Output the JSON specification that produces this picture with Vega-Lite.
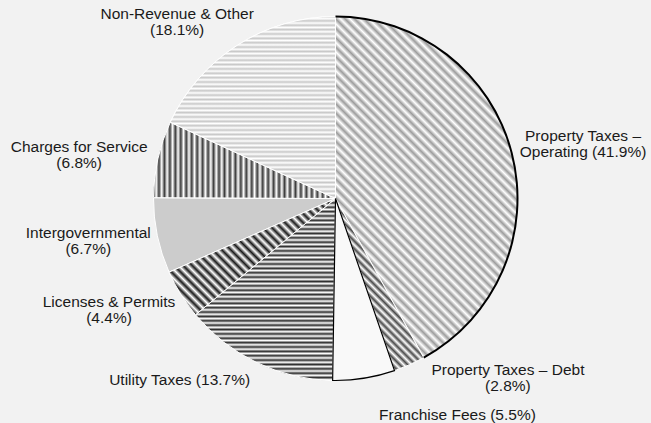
{
  "$schema": "https://vega.github.io/schema/vega-lite/v6.json",
  "width": 600,
  "height": 380,
  "autosize": {"type": "none"},
  "padding": {"left": 35.5, "top": 8.5, "right": 15.5, "bottom": 34.5},
  "background": "#f2f2f2",
  "config": {"view": {"stroke": null}},
  "data": {
    "values": [
      {"idx": 1, "category": "Property Taxes – Operating", "pct": 41.9, "label": "Property Taxes –\nOperating (41.9%)"},
      {"idx": 2, "category": "Property Taxes – Debt", "pct": 2.8, "label": "Property Taxes – Debt\n(2.8%)"},
      {"idx": 3, "category": "Franchise Fees", "pct": 5.5, "label": "Franchise Fees (5.5%)"},
      {"idx": 4, "category": "Utility Taxes", "pct": 13.7, "label": "Utility Taxes (13.7%)"},
      {"idx": 5, "category": "Licenses & Permits", "pct": 4.4, "label": "Licenses & Permits\n(4.4%)"},
      {"idx": 6, "category": "Intergovernmental", "pct": 6.7, "label": "Intergovernmental\n(6.7%)"},
      {"idx": 7, "category": "Charges for Service", "pct": 6.8, "label": "Charges for Service\n(6.8%)"},
      {"idx": 8, "category": "Non-Revenue & Other", "pct": 18.1, "label": "Non-Revenue & Other\n(18.1%)"}
    ]
  },
  "transform": [
    {"stack": "pct", "groupby": [], "sort": [{"field": "idx", "order": "ascending"}], "as": ["p0", "p1"]},
    {"calculate": "(datum.p0 + datum.p1) / 2", "as": "mid"}
  ],
  "layer": [
    {
      "mark": {"type": "arc", "outerRadius": 182, "stroke": "#ffffff", "strokeWidth": 1},
      "encoding": {
        "theta": {"field": "p0", "type": "quantitative", "scale": {"domain": [0, 99.9]}},
        "theta2": {"field": "p1"},
        "fill": {
          "field": "category", "type": "nominal", "legend": null,
          "scale": {
            "domain": ["Property Taxes – Operating", "Property Taxes – Debt", "Franchise Fees", "Utility Taxes", "Licenses & Permits", "Intergovernmental", "Charges for Service", "Non-Revenue & Other"],
            "range": ["#d3d3d3", "#ababab", "#f9f9f9", "#9c9c9c", "#959595", "#cccccc", "#a2a2a2", "#eaeaea"]
          }
        }
      }
    },
    {
      "transform": [{"filter": "datum.idx == 1"}],
      "mark": {"type": "arc", "outerRadius": 182, "stroke": "#ffffff", "strokeWidth": 1,
        "fill": {"gradient": "linear", "x1": 0, "y1": 1, "x2": 0.6368, "y2": -0.1938, "stops": [
          {"offset": 0, "color": "#9c9c9c"}, {"offset": 0.009, "color": "#fff"}, {"offset": 0.018, "color": "#9c9c9c"}, {"offset": 0.027, "color": "#fff"},
          {"offset": 0.036, "color": "#9c9c9c"}, {"offset": 0.045, "color": "#fff"}, {"offset": 0.054, "color": "#9c9c9c"}, {"offset": 0.063, "color": "#fff"},
          {"offset": 0.072, "color": "#9c9c9c"}, {"offset": 0.081, "color": "#fff"}, {"offset": 0.09, "color": "#9c9c9c"}, {"offset": 0.099, "color": "#fff"},
          {"offset": 0.108, "color": "#9c9c9c"}, {"offset": 0.117, "color": "#fff"}, {"offset": 0.126, "color": "#9c9c9c"}, {"offset": 0.135, "color": "#fff"},
          {"offset": 0.144, "color": "#9c9c9c"}, {"offset": 0.153, "color": "#fff"}, {"offset": 0.162, "color": "#9c9c9c"}, {"offset": 0.171, "color": "#fff"},
          {"offset": 0.18, "color": "#9c9c9c"}, {"offset": 0.189, "color": "#fff"}, {"offset": 0.198, "color": "#9c9c9c"}, {"offset": 0.207, "color": "#fff"},
          {"offset": 0.216, "color": "#9c9c9c"}, {"offset": 0.225, "color": "#fff"}, {"offset": 0.234, "color": "#9c9c9c"}, {"offset": 0.243, "color": "#fff"},
          {"offset": 0.252, "color": "#9c9c9c"}, {"offset": 0.261, "color": "#fff"}, {"offset": 0.27, "color": "#9c9c9c"}, {"offset": 0.279, "color": "#fff"},
          {"offset": 0.288, "color": "#9c9c9c"}, {"offset": 0.297, "color": "#fff"}, {"offset": 0.306, "color": "#9c9c9c"}, {"offset": 0.315, "color": "#fff"},
          {"offset": 0.324, "color": "#9c9c9c"}, {"offset": 0.333, "color": "#fff"}, {"offset": 0.342, "color": "#9c9c9c"}, {"offset": 0.351, "color": "#fff"},
          {"offset": 0.36, "color": "#9c9c9c"}, {"offset": 0.369, "color": "#fff"}, {"offset": 0.378, "color": "#9c9c9c"}, {"offset": 0.387, "color": "#fff"},
          {"offset": 0.396, "color": "#9c9c9c"}, {"offset": 0.405, "color": "#fff"}, {"offset": 0.414, "color": "#9c9c9c"}, {"offset": 0.423, "color": "#fff"},
          {"offset": 0.432, "color": "#9c9c9c"}, {"offset": 0.441, "color": "#fff"}, {"offset": 0.45, "color": "#9c9c9c"}, {"offset": 0.459, "color": "#fff"},
          {"offset": 0.468, "color": "#9c9c9c"}, {"offset": 0.477, "color": "#fff"}, {"offset": 0.486, "color": "#9c9c9c"}, {"offset": 0.495, "color": "#fff"},
          {"offset": 0.504, "color": "#9c9c9c"}, {"offset": 0.513, "color": "#fff"}, {"offset": 0.522, "color": "#9c9c9c"}, {"offset": 0.531, "color": "#fff"},
          {"offset": 0.54, "color": "#9c9c9c"}, {"offset": 0.549, "color": "#fff"}, {"offset": 0.558, "color": "#9c9c9c"}, {"offset": 0.567, "color": "#fff"},
          {"offset": 0.576, "color": "#9c9c9c"}, {"offset": 0.585, "color": "#fff"}, {"offset": 0.594, "color": "#9c9c9c"}, {"offset": 0.603, "color": "#fff"},
          {"offset": 0.612, "color": "#9c9c9c"}, {"offset": 0.621, "color": "#fff"}, {"offset": 0.63, "color": "#9c9c9c"}, {"offset": 0.639, "color": "#fff"},
          {"offset": 0.648, "color": "#9c9c9c"}, {"offset": 0.657, "color": "#fff"}, {"offset": 0.666, "color": "#9c9c9c"}, {"offset": 0.675, "color": "#fff"},
          {"offset": 0.684, "color": "#9c9c9c"}, {"offset": 0.693, "color": "#fff"}, {"offset": 0.702, "color": "#9c9c9c"}, {"offset": 0.711, "color": "#fff"},
          {"offset": 0.72, "color": "#9c9c9c"}, {"offset": 0.729, "color": "#fff"}, {"offset": 0.738, "color": "#9c9c9c"}, {"offset": 0.747, "color": "#fff"},
          {"offset": 0.756, "color": "#9c9c9c"}, {"offset": 0.765, "color": "#fff"}, {"offset": 0.774, "color": "#9c9c9c"}, {"offset": 0.783, "color": "#fff"},
          {"offset": 0.792, "color": "#9c9c9c"}, {"offset": 0.801, "color": "#fff"}, {"offset": 0.81, "color": "#9c9c9c"}, {"offset": 0.819, "color": "#fff"},
          {"offset": 0.828, "color": "#9c9c9c"}, {"offset": 0.837, "color": "#fff"}, {"offset": 0.846, "color": "#9c9c9c"}, {"offset": 0.855, "color": "#fff"},
          {"offset": 0.864, "color": "#9c9c9c"}, {"offset": 0.873, "color": "#fff"}, {"offset": 0.882, "color": "#9c9c9c"}, {"offset": 0.891, "color": "#fff"},
          {"offset": 0.9, "color": "#9c9c9c"}, {"offset": 0.909, "color": "#fff"}, {"offset": 0.918, "color": "#9c9c9c"}, {"offset": 0.927, "color": "#fff"},
          {"offset": 0.936, "color": "#9c9c9c"}, {"offset": 0.945, "color": "#fff"}, {"offset": 0.954, "color": "#9c9c9c"}, {"offset": 0.963, "color": "#fff"},
          {"offset": 0.972, "color": "#9c9c9c"}, {"offset": 0.981, "color": "#fff"}, {"offset": 0.99, "color": "#9c9c9c"}, {"offset": 0.999, "color": "#fff"}
        ]}},
      "encoding": {
        "theta": {"field": "p0", "type": "quantitative", "scale": {"domain": [0, 99.9]}},
        "theta2": {"field": "p1"}
      }
    },
    {
      "transform": [{"filter": "datum.idx == 2"}],
      "mark": {"type": "arc", "outerRadius": 182, "stroke": "#ffffff", "strokeWidth": 1,
        "fill": {"gradient": "linear", "x1": 0, "y1": 1, "x2": 0.6142, "y2": -0.1978, "stops": [
          {"offset": 0, "color": "#4a4a4a"}, {"offset": 0.015, "color": "#fff"}, {"offset": 0.03, "color": "#4a4a4a"}, {"offset": 0.045, "color": "#fff"},
          {"offset": 0.06, "color": "#4a4a4a"}, {"offset": 0.075, "color": "#fff"}, {"offset": 0.09, "color": "#4a4a4a"}, {"offset": 0.105, "color": "#fff"},
          {"offset": 0.12, "color": "#4a4a4a"}, {"offset": 0.135, "color": "#fff"}, {"offset": 0.15, "color": "#4a4a4a"}, {"offset": 0.165, "color": "#fff"},
          {"offset": 0.18, "color": "#4a4a4a"}, {"offset": 0.195, "color": "#fff"}, {"offset": 0.21, "color": "#4a4a4a"}, {"offset": 0.225, "color": "#fff"},
          {"offset": 0.24, "color": "#4a4a4a"}, {"offset": 0.255, "color": "#fff"}, {"offset": 0.27, "color": "#4a4a4a"}, {"offset": 0.285, "color": "#fff"},
          {"offset": 0.3, "color": "#4a4a4a"}, {"offset": 0.315, "color": "#fff"}, {"offset": 0.33, "color": "#4a4a4a"}, {"offset": 0.345, "color": "#fff"},
          {"offset": 0.36, "color": "#4a4a4a"}, {"offset": 0.375, "color": "#fff"}, {"offset": 0.39, "color": "#4a4a4a"}, {"offset": 0.405, "color": "#fff"},
          {"offset": 0.42, "color": "#4a4a4a"}, {"offset": 0.435, "color": "#fff"}, {"offset": 0.45, "color": "#4a4a4a"}, {"offset": 0.465, "color": "#fff"},
          {"offset": 0.48, "color": "#4a4a4a"}, {"offset": 0.495, "color": "#fff"}, {"offset": 0.51, "color": "#4a4a4a"}, {"offset": 0.525, "color": "#fff"},
          {"offset": 0.54, "color": "#4a4a4a"}, {"offset": 0.555, "color": "#fff"}, {"offset": 0.57, "color": "#4a4a4a"}, {"offset": 0.585, "color": "#fff"},
          {"offset": 0.6, "color": "#4a4a4a"}, {"offset": 0.615, "color": "#fff"}, {"offset": 0.63, "color": "#4a4a4a"}, {"offset": 0.645, "color": "#fff"},
          {"offset": 0.66, "color": "#4a4a4a"}, {"offset": 0.675, "color": "#fff"}, {"offset": 0.69, "color": "#4a4a4a"}, {"offset": 0.705, "color": "#fff"},
          {"offset": 0.72, "color": "#4a4a4a"}, {"offset": 0.735, "color": "#fff"}, {"offset": 0.75, "color": "#4a4a4a"}, {"offset": 0.765, "color": "#fff"},
          {"offset": 0.78, "color": "#4a4a4a"}, {"offset": 0.795, "color": "#fff"}, {"offset": 0.81, "color": "#4a4a4a"}, {"offset": 0.825, "color": "#fff"},
          {"offset": 0.84, "color": "#4a4a4a"}, {"offset": 0.855, "color": "#fff"}, {"offset": 0.87, "color": "#4a4a4a"}, {"offset": 0.885, "color": "#fff"},
          {"offset": 0.9, "color": "#4a4a4a"}, {"offset": 0.915, "color": "#fff"}, {"offset": 0.93, "color": "#4a4a4a"}, {"offset": 0.945, "color": "#fff"},
          {"offset": 0.96, "color": "#4a4a4a"}, {"offset": 0.975, "color": "#fff"}, {"offset": 0.99, "color": "#4a4a4a"}
        ]}},
      "encoding": {
        "theta": {"field": "p0", "type": "quantitative", "scale": {"domain": [0, 99.9]}},
        "theta2": {"field": "p1"}
      }
    },
    {
      "transform": [{"filter": "datum.idx == 4"}],
      "mark": {"type": "arc", "outerRadius": 182, "stroke": "#ffffff", "strokeWidth": 1,
        "fill": {"gradient": "linear", "x1": 0, "y1": 0, "x2": 0, "y2": 1, "stops": [
          {"offset": 0, "color": "#2e2e2e"}, {"offset": 0.012, "color": "#fff"}, {"offset": 0.024, "color": "#2e2e2e"}, {"offset": 0.036, "color": "#fff"},
          {"offset": 0.048, "color": "#2e2e2e"}, {"offset": 0.06, "color": "#fff"}, {"offset": 0.072, "color": "#2e2e2e"}, {"offset": 0.084, "color": "#fff"},
          {"offset": 0.096, "color": "#2e2e2e"}, {"offset": 0.108, "color": "#fff"}, {"offset": 0.12, "color": "#2e2e2e"}, {"offset": 0.132, "color": "#fff"},
          {"offset": 0.144, "color": "#2e2e2e"}, {"offset": 0.156, "color": "#fff"}, {"offset": 0.168, "color": "#2e2e2e"}, {"offset": 0.18, "color": "#fff"},
          {"offset": 0.192, "color": "#2e2e2e"}, {"offset": 0.204, "color": "#fff"}, {"offset": 0.216, "color": "#2e2e2e"}, {"offset": 0.228, "color": "#fff"},
          {"offset": 0.24, "color": "#2e2e2e"}, {"offset": 0.252, "color": "#fff"}, {"offset": 0.264, "color": "#2e2e2e"}, {"offset": 0.276, "color": "#fff"},
          {"offset": 0.288, "color": "#2e2e2e"}, {"offset": 0.3, "color": "#fff"}, {"offset": 0.312, "color": "#2e2e2e"}, {"offset": 0.324, "color": "#fff"},
          {"offset": 0.336, "color": "#2e2e2e"}, {"offset": 0.348, "color": "#fff"}, {"offset": 0.36, "color": "#2e2e2e"}, {"offset": 0.372, "color": "#fff"},
          {"offset": 0.384, "color": "#2e2e2e"}, {"offset": 0.396, "color": "#fff"}, {"offset": 0.408, "color": "#2e2e2e"}, {"offset": 0.42, "color": "#fff"},
          {"offset": 0.432, "color": "#2e2e2e"}, {"offset": 0.444, "color": "#fff"}, {"offset": 0.456, "color": "#2e2e2e"}, {"offset": 0.468, "color": "#fff"},
          {"offset": 0.48, "color": "#2e2e2e"}, {"offset": 0.492, "color": "#fff"}, {"offset": 0.504, "color": "#2e2e2e"}, {"offset": 0.516, "color": "#fff"},
          {"offset": 0.528, "color": "#2e2e2e"}, {"offset": 0.54, "color": "#fff"}, {"offset": 0.552, "color": "#2e2e2e"}, {"offset": 0.564, "color": "#fff"},
          {"offset": 0.576, "color": "#2e2e2e"}, {"offset": 0.588, "color": "#fff"}, {"offset": 0.6, "color": "#2e2e2e"}, {"offset": 0.612, "color": "#fff"},
          {"offset": 0.624, "color": "#2e2e2e"}, {"offset": 0.636, "color": "#fff"}, {"offset": 0.648, "color": "#2e2e2e"}, {"offset": 0.66, "color": "#fff"},
          {"offset": 0.672, "color": "#2e2e2e"}, {"offset": 0.684, "color": "#fff"}, {"offset": 0.696, "color": "#2e2e2e"}, {"offset": 0.708, "color": "#fff"},
          {"offset": 0.72, "color": "#2e2e2e"}, {"offset": 0.732, "color": "#fff"}, {"offset": 0.744, "color": "#2e2e2e"}, {"offset": 0.756, "color": "#fff"},
          {"offset": 0.768, "color": "#2e2e2e"}, {"offset": 0.78, "color": "#fff"}, {"offset": 0.792, "color": "#2e2e2e"}, {"offset": 0.804, "color": "#fff"},
          {"offset": 0.816, "color": "#2e2e2e"}, {"offset": 0.828, "color": "#fff"}, {"offset": 0.84, "color": "#2e2e2e"}, {"offset": 0.852, "color": "#fff"},
          {"offset": 0.864, "color": "#2e2e2e"}, {"offset": 0.876, "color": "#fff"}, {"offset": 0.888, "color": "#2e2e2e"}, {"offset": 0.9, "color": "#fff"},
          {"offset": 0.912, "color": "#2e2e2e"}, {"offset": 0.924, "color": "#fff"}, {"offset": 0.936, "color": "#2e2e2e"}, {"offset": 0.948, "color": "#fff"},
          {"offset": 0.96, "color": "#2e2e2e"}, {"offset": 0.972, "color": "#fff"}, {"offset": 0.984, "color": "#2e2e2e"}, {"offset": 0.996, "color": "#fff"}
        ]}},
      "encoding": {
        "theta": {"field": "p0", "type": "quantitative", "scale": {"domain": [0, 99.9]}},
        "theta2": {"field": "p1"}
      }
    },
    {
      "transform": [{"filter": "datum.idx == 5"}],
      "mark": {"type": "arc", "outerRadius": 182, "stroke": "#ffffff", "strokeWidth": 1,
        "fill": {"gradient": "linear", "x1": 0, "y1": 1, "x2": 1.1414, "y2": 0.2023, "stops": [
          {"offset": 0, "color": "#1a1a1a"}, {"offset": 0.016, "color": "#fff"}, {"offset": 0.032, "color": "#1a1a1a"}, {"offset": 0.048, "color": "#fff"},
          {"offset": 0.064, "color": "#1a1a1a"}, {"offset": 0.08, "color": "#fff"}, {"offset": 0.096, "color": "#1a1a1a"}, {"offset": 0.112, "color": "#fff"},
          {"offset": 0.128, "color": "#1a1a1a"}, {"offset": 0.144, "color": "#fff"}, {"offset": 0.16, "color": "#1a1a1a"}, {"offset": 0.176, "color": "#fff"},
          {"offset": 0.192, "color": "#1a1a1a"}, {"offset": 0.208, "color": "#fff"}, {"offset": 0.224, "color": "#1a1a1a"}, {"offset": 0.24, "color": "#fff"},
          {"offset": 0.256, "color": "#1a1a1a"}, {"offset": 0.272, "color": "#fff"}, {"offset": 0.288, "color": "#1a1a1a"}, {"offset": 0.304, "color": "#fff"},
          {"offset": 0.32, "color": "#1a1a1a"}, {"offset": 0.336, "color": "#fff"}, {"offset": 0.352, "color": "#1a1a1a"}, {"offset": 0.368, "color": "#fff"},
          {"offset": 0.384, "color": "#1a1a1a"}, {"offset": 0.4, "color": "#fff"}, {"offset": 0.416, "color": "#1a1a1a"}, {"offset": 0.432, "color": "#fff"},
          {"offset": 0.448, "color": "#1a1a1a"}, {"offset": 0.464, "color": "#fff"}, {"offset": 0.48, "color": "#1a1a1a"}, {"offset": 0.496, "color": "#fff"},
          {"offset": 0.512, "color": "#1a1a1a"}, {"offset": 0.528, "color": "#fff"}, {"offset": 0.544, "color": "#1a1a1a"}, {"offset": 0.56, "color": "#fff"},
          {"offset": 0.576, "color": "#1a1a1a"}, {"offset": 0.592, "color": "#fff"}, {"offset": 0.608, "color": "#1a1a1a"}, {"offset": 0.624, "color": "#fff"},
          {"offset": 0.64, "color": "#1a1a1a"}, {"offset": 0.656, "color": "#fff"}, {"offset": 0.672, "color": "#1a1a1a"}, {"offset": 0.688, "color": "#fff"},
          {"offset": 0.704, "color": "#1a1a1a"}, {"offset": 0.72, "color": "#fff"}, {"offset": 0.736, "color": "#1a1a1a"}, {"offset": 0.752, "color": "#fff"},
          {"offset": 0.768, "color": "#1a1a1a"}, {"offset": 0.784, "color": "#fff"}, {"offset": 0.8, "color": "#1a1a1a"}, {"offset": 0.816, "color": "#fff"},
          {"offset": 0.832, "color": "#1a1a1a"}, {"offset": 0.848, "color": "#fff"}, {"offset": 0.864, "color": "#1a1a1a"}, {"offset": 0.88, "color": "#fff"},
          {"offset": 0.896, "color": "#1a1a1a"}, {"offset": 0.912, "color": "#fff"}, {"offset": 0.928, "color": "#1a1a1a"}, {"offset": 0.944, "color": "#fff"},
          {"offset": 0.96, "color": "#1a1a1a"}, {"offset": 0.976, "color": "#fff"}, {"offset": 0.992, "color": "#1a1a1a"}
        ]}},
      "encoding": {
        "theta": {"field": "p0", "type": "quantitative", "scale": {"domain": [0, 99.9]}},
        "theta2": {"field": "p1"}
      }
    },
    {
      "transform": [{"filter": "datum.idx == 7"}],
      "mark": {"type": "arc", "outerRadius": 182, "stroke": "#ffffff", "strokeWidth": 1,
        "fill": {"gradient": "linear", "x1": 0, "y1": 0, "x2": 1, "y2": 0, "stops": [
          {"offset": 0, "color": "#3c3c3c"}, {"offset": 0.015, "color": "#fff"}, {"offset": 0.03, "color": "#3c3c3c"}, {"offset": 0.045, "color": "#fff"},
          {"offset": 0.06, "color": "#3c3c3c"}, {"offset": 0.075, "color": "#fff"}, {"offset": 0.09, "color": "#3c3c3c"}, {"offset": 0.105, "color": "#fff"},
          {"offset": 0.12, "color": "#3c3c3c"}, {"offset": 0.135, "color": "#fff"}, {"offset": 0.15, "color": "#3c3c3c"}, {"offset": 0.165, "color": "#fff"},
          {"offset": 0.18, "color": "#3c3c3c"}, {"offset": 0.195, "color": "#fff"}, {"offset": 0.21, "color": "#3c3c3c"}, {"offset": 0.225, "color": "#fff"},
          {"offset": 0.24, "color": "#3c3c3c"}, {"offset": 0.255, "color": "#fff"}, {"offset": 0.27, "color": "#3c3c3c"}, {"offset": 0.285, "color": "#fff"},
          {"offset": 0.3, "color": "#3c3c3c"}, {"offset": 0.315, "color": "#fff"}, {"offset": 0.33, "color": "#3c3c3c"}, {"offset": 0.345, "color": "#fff"},
          {"offset": 0.36, "color": "#3c3c3c"}, {"offset": 0.375, "color": "#fff"}, {"offset": 0.39, "color": "#3c3c3c"}, {"offset": 0.405, "color": "#fff"},
          {"offset": 0.42, "color": "#3c3c3c"}, {"offset": 0.435, "color": "#fff"}, {"offset": 0.45, "color": "#3c3c3c"}, {"offset": 0.465, "color": "#fff"},
          {"offset": 0.48, "color": "#3c3c3c"}, {"offset": 0.495, "color": "#fff"}, {"offset": 0.51, "color": "#3c3c3c"}, {"offset": 0.525, "color": "#fff"},
          {"offset": 0.54, "color": "#3c3c3c"}, {"offset": 0.555, "color": "#fff"}, {"offset": 0.57, "color": "#3c3c3c"}, {"offset": 0.585, "color": "#fff"},
          {"offset": 0.6, "color": "#3c3c3c"}, {"offset": 0.615, "color": "#fff"}, {"offset": 0.63, "color": "#3c3c3c"}, {"offset": 0.645, "color": "#fff"},
          {"offset": 0.66, "color": "#3c3c3c"}, {"offset": 0.675, "color": "#fff"}, {"offset": 0.69, "color": "#3c3c3c"}, {"offset": 0.705, "color": "#fff"},
          {"offset": 0.72, "color": "#3c3c3c"}, {"offset": 0.735, "color": "#fff"}, {"offset": 0.75, "color": "#3c3c3c"}, {"offset": 0.765, "color": "#fff"},
          {"offset": 0.78, "color": "#3c3c3c"}, {"offset": 0.795, "color": "#fff"}, {"offset": 0.81, "color": "#3c3c3c"}, {"offset": 0.825, "color": "#fff"},
          {"offset": 0.84, "color": "#3c3c3c"}, {"offset": 0.855, "color": "#fff"}, {"offset": 0.87, "color": "#3c3c3c"}, {"offset": 0.885, "color": "#fff"},
          {"offset": 0.9, "color": "#3c3c3c"}, {"offset": 0.915, "color": "#fff"}, {"offset": 0.93, "color": "#3c3c3c"}, {"offset": 0.945, "color": "#fff"},
          {"offset": 0.96, "color": "#3c3c3c"}, {"offset": 0.975, "color": "#fff"}, {"offset": 0.99, "color": "#3c3c3c"}
        ]}},
      "encoding": {
        "theta": {"field": "p0", "type": "quantitative", "scale": {"domain": [0, 99.9]}},
        "theta2": {"field": "p1"}
      }
    },
    {
      "transform": [{"filter": "datum.idx == 8"}],
      "mark": {"type": "arc", "outerRadius": 182, "stroke": "#ffffff", "strokeWidth": 1,
        "fill": {"gradient": "linear", "x1": 0, "y1": 0, "x2": 0, "y2": 1, "stops": [
          {"offset": 0, "color": "#c8c8c8"}, {"offset": 0.012, "color": "#fff"}, {"offset": 0.024, "color": "#c8c8c8"}, {"offset": 0.036, "color": "#fff"},
          {"offset": 0.048, "color": "#c8c8c8"}, {"offset": 0.06, "color": "#fff"}, {"offset": 0.072, "color": "#c8c8c8"}, {"offset": 0.084, "color": "#fff"},
          {"offset": 0.096, "color": "#c8c8c8"}, {"offset": 0.108, "color": "#fff"}, {"offset": 0.12, "color": "#c8c8c8"}, {"offset": 0.132, "color": "#fff"},
          {"offset": 0.144, "color": "#c8c8c8"}, {"offset": 0.156, "color": "#fff"}, {"offset": 0.168, "color": "#c8c8c8"}, {"offset": 0.18, "color": "#fff"},
          {"offset": 0.192, "color": "#c8c8c8"}, {"offset": 0.204, "color": "#fff"}, {"offset": 0.216, "color": "#c8c8c8"}, {"offset": 0.228, "color": "#fff"},
          {"offset": 0.24, "color": "#c8c8c8"}, {"offset": 0.252, "color": "#fff"}, {"offset": 0.264, "color": "#c8c8c8"}, {"offset": 0.276, "color": "#fff"},
          {"offset": 0.288, "color": "#c8c8c8"}, {"offset": 0.3, "color": "#fff"}, {"offset": 0.312, "color": "#c8c8c8"}, {"offset": 0.324, "color": "#fff"},
          {"offset": 0.336, "color": "#c8c8c8"}, {"offset": 0.348, "color": "#fff"}, {"offset": 0.36, "color": "#c8c8c8"}, {"offset": 0.372, "color": "#fff"},
          {"offset": 0.384, "color": "#c8c8c8"}, {"offset": 0.396, "color": "#fff"}, {"offset": 0.408, "color": "#c8c8c8"}, {"offset": 0.42, "color": "#fff"},
          {"offset": 0.432, "color": "#c8c8c8"}, {"offset": 0.444, "color": "#fff"}, {"offset": 0.456, "color": "#c8c8c8"}, {"offset": 0.468, "color": "#fff"},
          {"offset": 0.48, "color": "#c8c8c8"}, {"offset": 0.492, "color": "#fff"}, {"offset": 0.504, "color": "#c8c8c8"}, {"offset": 0.516, "color": "#fff"},
          {"offset": 0.528, "color": "#c8c8c8"}, {"offset": 0.54, "color": "#fff"}, {"offset": 0.552, "color": "#c8c8c8"}, {"offset": 0.564, "color": "#fff"},
          {"offset": 0.576, "color": "#c8c8c8"}, {"offset": 0.588, "color": "#fff"}, {"offset": 0.6, "color": "#c8c8c8"}, {"offset": 0.612, "color": "#fff"},
          {"offset": 0.624, "color": "#c8c8c8"}, {"offset": 0.636, "color": "#fff"}, {"offset": 0.648, "color": "#c8c8c8"}, {"offset": 0.66, "color": "#fff"},
          {"offset": 0.672, "color": "#c8c8c8"}, {"offset": 0.684, "color": "#fff"}, {"offset": 0.696, "color": "#c8c8c8"}, {"offset": 0.708, "color": "#fff"},
          {"offset": 0.72, "color": "#c8c8c8"}, {"offset": 0.732, "color": "#fff"}, {"offset": 0.744, "color": "#c8c8c8"}, {"offset": 0.756, "color": "#fff"},
          {"offset": 0.768, "color": "#c8c8c8"}, {"offset": 0.78, "color": "#fff"}, {"offset": 0.792, "color": "#c8c8c8"}, {"offset": 0.804, "color": "#fff"},
          {"offset": 0.816, "color": "#c8c8c8"}, {"offset": 0.828, "color": "#fff"}, {"offset": 0.84, "color": "#c8c8c8"}, {"offset": 0.852, "color": "#fff"},
          {"offset": 0.864, "color": "#c8c8c8"}, {"offset": 0.876, "color": "#fff"}, {"offset": 0.888, "color": "#c8c8c8"}, {"offset": 0.9, "color": "#fff"},
          {"offset": 0.912, "color": "#c8c8c8"}, {"offset": 0.924, "color": "#fff"}, {"offset": 0.936, "color": "#c8c8c8"}, {"offset": 0.948, "color": "#fff"},
          {"offset": 0.96, "color": "#c8c8c8"}, {"offset": 0.972, "color": "#fff"}, {"offset": 0.984, "color": "#c8c8c8"}, {"offset": 0.996, "color": "#fff"}
        ]}},
      "encoding": {
        "theta": {"field": "p0", "type": "quantitative", "scale": {"domain": [0, 99.9]}},
        "theta2": {"field": "p1"}
      }
    },
    {
      "transform": [{"filter": "datum.idx == 1"}],
      "mark": {"type": "arc", "innerRadius": 181, "outerRadius": 183, "fill": "#000000"},
      "encoding": {
        "theta": {"field": "p0", "type": "quantitative", "scale": {"domain": [0, 99.9]}},
        "theta2": {"field": "p1"}
      }
    },
    {
      "transform": [{"filter": "datum.idx == 3"}],
      "mark": {"type": "arc", "outerRadius": 182, "fillOpacity": 0, "stroke": "#000000", "strokeWidth": 1.2},
      "encoding": {
        "theta": {"field": "p0", "type": "quantitative", "scale": {"domain": [0, 99.9]}},
        "theta2": {"field": "p1"}
      }
    },
    {
      "transform": [{"filter": "datum.idx == 1"}],
      "mark": {"type": "text", "radius": 250, "dx": 5.5, "dy": 0, "font": "Liberation Sans", "fontSize": 15.5, "lineHeight": 16, "lineBreak": "\n", "align": "center", "baseline": "middle", "fill": "#1a1a1a"},
      "encoding": {"theta": {"field": "mid", "type": "quantitative", "scale": {"domain": [0, 99.9]}}, "text": {"field": "label"}}
    },
    {
      "transform": [{"filter": "datum.idx == 2"}],
      "mark": {"type": "text", "radius": 230, "dx": 79, "dy": -39, "font": "Liberation Sans", "fontSize": 15.5, "lineHeight": 16, "lineBreak": "\n", "align": "center", "baseline": "middle", "fill": "#1a1a1a"},
      "encoding": {"theta": {"field": "mid", "type": "quantitative", "scale": {"domain": [0, 99.9]}}, "text": {"field": "label"}}
    },
    {
      "transform": [{"filter": "datum.idx == 3"}],
      "mark": {"type": "text", "radius": 220, "dx": 87.5, "dy": -1, "font": "Liberation Sans", "fontSize": 15.5, "lineHeight": 16, "lineBreak": "\n", "align": "center", "baseline": "middle", "fill": "#1a1a1a"},
      "encoding": {"theta": {"field": "mid", "type": "quantitative", "scale": {"domain": [0, 99.9]}}, "text": {"field": "label"}}
    },
    {
      "transform": [{"filter": "datum.idx == 4"}],
      "mark": {"type": "text", "radius": 200, "dx": -69.5, "dy": 1, "font": "Liberation Sans", "fontSize": 15.5, "lineHeight": 16, "lineBreak": "\n", "align": "center", "baseline": "middle", "fill": "#1a1a1a"},
      "encoding": {"theta": {"field": "mid", "type": "quantitative", "scale": {"domain": [0, 99.9]}}, "text": {"field": "label"}}
    },
    {
      "transform": [{"filter": "datum.idx == 5"}],
      "mark": {"type": "text", "radius": 250, "dx": -14, "dy": -28, "font": "Liberation Sans", "fontSize": 15.5, "lineHeight": 16, "lineBreak": "\n", "align": "center", "baseline": "middle", "fill": "#1a1a1a"},
      "encoding": {"theta": {"field": "mid", "type": "quantitative", "scale": {"domain": [0, 99.9]}}, "text": {"field": "label"}}
    },
    {
      "transform": [{"filter": "datum.idx == 6"}],
      "mark": {"type": "text", "radius": 250, "dx": -2.5, "dy": -16.5, "font": "Liberation Sans", "fontSize": 15.5, "lineHeight": 16, "lineBreak": "\n", "align": "center", "baseline": "middle", "fill": "#1a1a1a"},
      "encoding": {"theta": {"field": "mid", "type": "quantitative", "scale": {"domain": [0, 99.9]}}, "text": {"field": "label"}}
    },
    {
      "transform": [{"filter": "datum.idx == 7"}],
      "mark": {"type": "text", "radius": 260, "dx": -2.5, "dy": 5, "font": "Liberation Sans", "fontSize": 15.5, "lineHeight": 16, "lineBreak": "\n", "align": "center", "baseline": "middle", "fill": "#1a1a1a"},
      "encoding": {"theta": {"field": "mid", "type": "quantitative", "scale": {"domain": [0, 99.9]}}, "text": {"field": "label"}}
    },
    {
      "transform": [{"filter": "datum.idx == 8"}],
      "mark": {"type": "text", "radius": 215, "dx": -42.5, "dy": -3, "font": "Liberation Sans", "fontSize": 15.5, "lineHeight": 16, "lineBreak": "\n", "align": "center", "baseline": "middle", "fill": "#1a1a1a"},
      "encoding": {"theta": {"field": "mid", "type": "quantitative", "scale": {"domain": [0, 99.9]}}, "text": {"field": "label"}}
    }
  ]
}
